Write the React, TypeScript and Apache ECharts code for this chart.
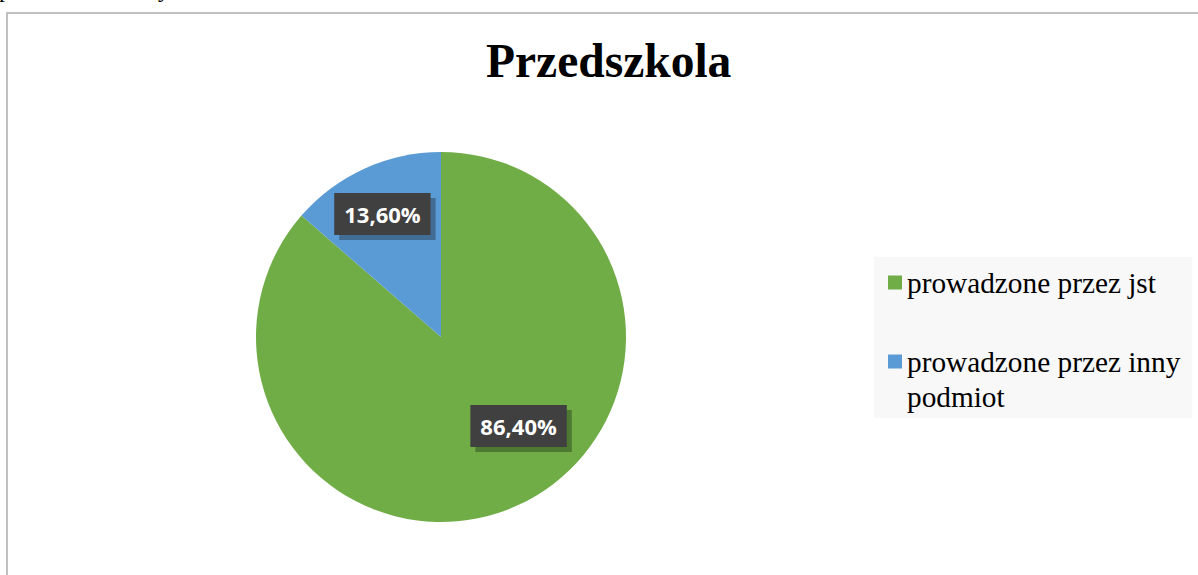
import React, { useEffect, useRef } from 'react';
import * as echarts from 'echarts';

const titleText = 'Przedszkola';
const categories = ['prowadzone przez jst', 'prowadzone przez inny podmiot'];
const values = [86.4, 13.6];
const colors = ['#70AD47', '#5B9BD5'];
// label nudges (styling) relative to the default inside position
const labelOffsets = [
  [38, 2],
  [-19, -36],
];
// fragments of the document text line above the frame
const fragments = ['p', 'y'];

// legend text wrapping: the long name wraps after its third word; a blank
// first line keeps the icon level with the first text line
const legendFormatter = (name: string) => {
  const words = name.split(' ');
  if (words.length <= 3) return name;
  return '\n' + words.slice(0, 3).join(' ') + '\n' + words.slice(3).join(' ');
};

export default function App() {
  const ref = useRef<HTMLDivElement>(null);

  useEffect(() => {
    const chart = echarts.init(ref.current!, null, { renderer: 'svg' });
    chart.setOption({
      animation: false,
      backgroundColor: '#ffffff',
      title: {
        text: titleText,
        left: 486,
        top: 37,
        padding: 0,
        textStyle: {
          fontFamily: 'Liberation Serif',
          fontWeight: 'bold',
          fontSize: 47.5,
          color: '#000000',
        },
      },
      graphic: [
        {
          type: 'rect',
          z: -10,
          shape: { x: 7, y: 13, width: 1300, height: 700 },
          style: { fill: '#ffffff', stroke: '#c0c0c0', lineWidth: 2 },
          silent: true,
        },
        {
          type: 'text',
          x: -1,
          y: 0.5,
          style: {
            text: fragments[0],
            font: '24px "Liberation Serif"',
            fill: '#000',
            verticalAlign: 'bottom',
          },
          silent: true,
        },
        {
          type: 'text',
          x: 158,
          y: 0.5,
          style: {
            text: fragments[1],
            font: '24px "Liberation Serif"',
            fill: '#000',
            verticalAlign: 'bottom',
          },
          silent: true,
        },
      ],
      legend: {
        orient: 'vertical',
        left: 874,
        top: 257,
        padding: [8, 12, 4, 14],
        backgroundColor: '#f8f8f8',
        itemWidth: 14,
        itemHeight: 14,
        itemGap: 9,
        icon: 'rect',
        selectedMode: false,
        data: categories.map((name) => ({ name })),
        formatter: legendFormatter,
        textStyle: {
          fontFamily: 'Liberation Serif',
          fontSize: 29.3,
          lineHeight: 35,
          color: '#000000',
        },
      },
      series: [
        {
          type: 'pie',
          center: [441, 337],
          radius: 185,
          startAngle: 90,
          clockwise: true,
          emphasis: { disabled: true },
          data: categories.map((name, i) => ({
            name,
            value: values[i],
            itemStyle: { color: colors[i] },
          })),
          label: {
            show: true,
            position: 'inside',
            formatter: (p: any) => p.value.toFixed(2).replace('.', ',') + '%',
            color: '#ffffff',
            fontFamily: 'Open Sans',
            fontWeight: 'bold',
            fontSize: 22,
            lineHeight: 28,
            backgroundColor: '#404040',
            padding: [7, 10],
            shadowColor: 'rgba(0,0,0,0.3)',
            shadowOffsetX: 5,
            shadowOffsetY: 5,
            shadowBlur: 0,
          },
          labelLayout: (params: any) => ({
            dx: labelOffsets[params.dataIndex][0],
            dy: labelOffsets[params.dataIndex][1],
          }),
          labelLine: { show: false },
        },
      ],
    });
    return () => chart.dispose();
  }, []);

  return (
    <div
      ref={ref}
      style={{ position: 'fixed', left: 0, top: 0, width: 1198, height: 575 }}
    />
  );
}
